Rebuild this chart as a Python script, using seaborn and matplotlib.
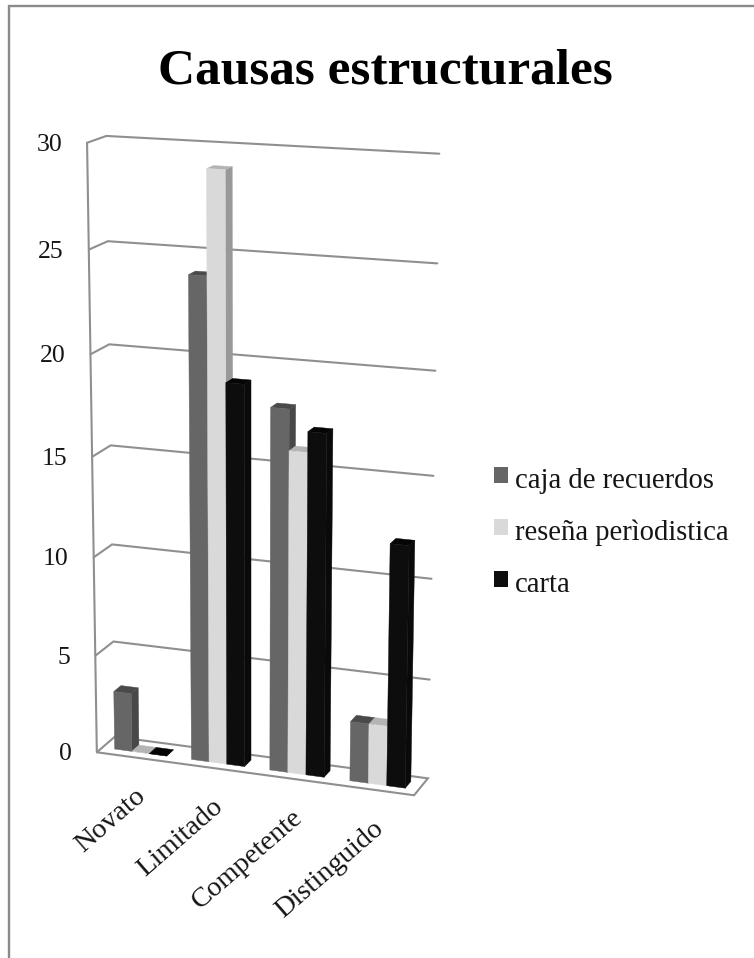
import numpy as np
import pandas as pd
import matplotlib
matplotlib.use("Agg")
import matplotlib.pyplot as plt
from matplotlib.patches import Polygon, Patch
import seaborn as sns

categories = ["Novato", "Limitado", "Competente", "Distinguido"]
series_names = ["caja de recuerdos", "reseña perìodistica", "carta"]
caja_de_recuerdos = [3, 24, 18, 3]
resena_periodistica = [0, 29, 16, 3]
carta = [0, 19, 17, 12]
y_ticks = [0, 5, 10, 15, 20, 25, 30]

front_colors = ["#666666", "#d9d9d9", "#0d0d0d"]
top_colors = ["#4a4a4a", "#b4b4b4", "#050505"]
side_colors = ["#484848", "#999999", "#0a0a0a"]
grid_color = "#8f8f8f"
text_color = "#151515"

W, H = 754, 958
sns.set_theme(style="white", font="Liberation Serif")
fig, ax = plt.subplots(figsize=(W / 100, H / 100), dpi=100)
ax.set_position([0, 0, 1, 1])

frame = pd.DataFrame({
    "nivel": categories * 3,
    "serie": np.repeat(series_names, len(categories)),
    "valor": caja_de_recuerdos + resena_periodistica + carta,
})
sns.barplot(data=frame, x="nivel", y="valor", hue="serie", hue_order=series_names,
            width=0.68, gap=0, dodge=True, palette=front_colors, saturation=1,
            legend=False, ax=ax)

# Bar extents as laid out by seaborn, one list per series.
bars = [[(b.get_x() + 0.5, b.get_width(), b.get_height()) for b in c] for c in ax.containers]
for c in list(ax.containers):
    c.remove()

# Oblique camera: category axis (0..4), value axis (0..30), depth (0 front, 1 back).
view_world = np.array([(0, 0, 0), (4, 0, 0), (0, 0, 1), (4, 0, 1),
                       (0, 30, 0), (0, 30, 1), (4, 30, 1)], float)
view_pixel = np.array([(97.3, 752.3), (414, 795.3), (114.3, 736.7), (428, 778.3),
                       (86.7, 142.7), (106.7, 136), (439.3, 153.7)], float)
rows, rhs = [], []
for (X, Y, Z), (u, v) in zip(view_world, view_pixel):
    rows.append([X, Y, Z, 1, 0, 0, 0, 0, -u * X, -u * Y, -u * Z]); rhs.append(u)
    rows.append([0, 0, 0, 0, X, Y, Z, 1, -v * X, -v * Y, -v * Z]); rhs.append(v)
camera = np.append(np.linalg.lstsq(np.array(rows), np.array(rhs), rcond=None)[0], 1).reshape(3, 4)


def project(X, Y, Z):
    p = camera @ np.array([X, Y, Z, 1.0])
    return p[0] / p[2], p[1] / p[2]


ax.set_xlim(0, W)
ax.set_ylim(H, 0)
ax.set_xlabel("")
ax.set_ylabel("")
ax.set_xticks([])
ax.set_yticks([])
ax.axis("off")

# Page border on the top and left.
ax.plot([8.7, 8.7, W], [H, 6.2, 6.2], color="#8a8a8a", lw=1.7, solid_joinstyle="miter", zorder=1)

# Floor outline, left axis and gridlines on both walls.
floor = [project(0, 0, 0), project(4, 0, 0), project(4, 0, 1), project(0, 0, 1)]
ax.add_patch(Polygon(floor, closed=True, fc="white", ec=grid_color, lw=1.5, zorder=2))
axis_line = [project(0, 0, 0), project(0, 30, 0)]
ax.plot(*zip(*axis_line), color=grid_color, lw=1.5, zorder=2)
for t in y_ticks[1:]:
    ax.plot(*zip(project(0, t, 0), project(0, t, 1), project(4, t, 1)),
            color=grid_color, lw=1.5, zorder=2, solid_joinstyle="miter")

Z_FRONT, Z_BACK = 0.31, 0.71
order = 3
for cat in range(len(categories)):
    for s in range(len(series_names)):
        x0, w, h = bars[s][cat]
        x1 = x0 + w
        side = [project(x1, 0, Z_FRONT), project(x1, 0, Z_BACK), project(x1, h, Z_BACK), project(x1, h, Z_FRONT)]
        top = [project(x0, h, Z_FRONT), project(x1, h, Z_FRONT), project(x1, h, Z_BACK), project(x0, h, Z_BACK)]
        face = [project(x0, 0, Z_FRONT), project(x1, 0, Z_FRONT), project(x1, h, Z_FRONT), project(x0, h, Z_FRONT)]
        for poly, col in ((side, side_colors[s]), (top, top_colors[s]), (face, front_colors[s])):
            ax.add_patch(Polygon(poly, closed=True, fc=col, ec=col, lw=0.3, zorder=order))
            order += 1

# Value labels follow the slanted front axis.
for t in y_ticks:
    u, v = project(0, t, 0)
    ax.text(u - 25, v + 2, str(t), ha="right", va="center", fontsize=18.5, color=text_color)

# Category labels hang at an angle from the front edge of the floor.
for i, name in enumerate(categories):
    u, v = project(i + 0.5, 0, 0)
    ax.text(u - 1, v + 26, name, rotation=41, ha="right", va="top", rotation_mode="anchor",
            fontsize=20.5, color=text_color)

ax.text(385, 71, "Causas estructurales", ha="center", va="center", fontsize=37,
        fontweight="bold", color="#000000")

handles = [Patch(fc=c, ec="none") for c in front_colors]
legend = ax.legend(handles, series_names, loc="center left", bbox_to_anchor=(494 / W, 1 - 530 / H),
                   bbox_transform=fig.transFigure, frameon=False, fontsize=20.6, labelcolor=text_color,
                   handlelength=0.49, handleheight=0.49, handletextpad=0.24, labelspacing=0.9,
                   borderpad=0, borderaxespad=0)
# Labels sit slightly below the centre of their swatches.
for label in legend.get_texts():
    label.set_y(-3)

fig.savefig("out.png", dpi=100)
